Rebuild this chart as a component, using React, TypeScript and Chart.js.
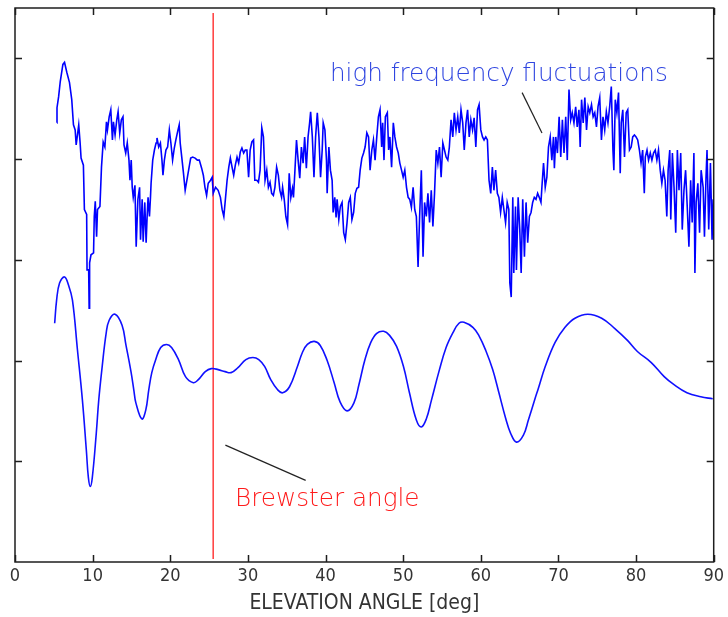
import React, { useEffect, useRef } from "react";
import { Chart, registerables } from "chart.js";

Chart.register(...registerables);

// ---- axis ticks ----
const xTickValues = [0, 10, 20, 30, 40, 50, 60, 70, 80, 90];
const yTickValues = [100, 200, 300, 400, 500];
const xTitle = "ELEVATION ANGLE [deg]";

// ---- measured (upper) curve ----
const upperAngles = [
  5.40, 5.41, 5.62, 5.83, 6.17, 6.38, 6.68, 7.02, 7.31, 7.53,
  7.75, 7.88, 8.08, 8.21, 8.39, 8.51, 8.81, 8.94, 9.23, 9.28,
  9.49, 9.55, 9.61, 9.79, 10.12, 10.21, 10.34, 10.51, 10.63, 10.94,
  11.14, 11.36, 11.58, 11.78, 11.91, 12.13, 12.34, 12.55, 12.68, 12.89,
  13.11, 13.28, 13.49, 13.70, 13.91, 14.04, 14.26, 14.46, 14.68, 14.81,
  14.97, 15.10, 15.23, 15.45, 15.61, 15.83, 16.05, 16.17, 16.38, 16.51,
  16.72, 16.89, 17.02, 17.14, 17.32, 17.45, 17.53, 17.74, 17.96, 18.17,
  18.29, 18.51, 18.73, 18.93, 19.06, 19.24, 19.44, 19.66, 19.88, 20.08,
  20.30, 20.52, 20.72, 20.94, 21.15, 21.28, 21.48, 21.70, 21.92, 22.21,
  22.43, 22.63, 22.89, 23.20, 23.49, 23.74, 24.04, 24.26, 24.47, 24.68,
  24.89, 25.19, 25.40, 25.53, 25.83, 26.17, 26.46, 26.68, 26.90, 27.10,
  27.32, 27.54, 27.74, 27.96, 28.17, 28.38, 28.60, 28.81, 29.02, 29.23,
  29.45, 29.66, 29.87, 30.09, 30.29, 30.51, 30.73, 30.89, 31.15, 31.36,
  31.57, 31.79, 32.00, 32.21, 32.43, 32.64, 32.85, 33.06, 33.28, 33.48,
  33.70, 33.92, 34.12, 34.34, 34.47, 34.68, 34.89, 35.11, 35.32, 35.53,
  35.74, 35.87, 36.04, 36.26, 36.47, 36.68, 36.89, 37.11, 37.31, 37.53,
  37.75, 37.95, 38.08, 38.30, 38.51, 38.72, 38.94, 39.15, 39.36, 39.57,
  39.70, 39.92, 40.12, 40.21, 40.43, 40.63, 40.85, 40.98, 41.19, 41.36,
  41.49, 41.71, 41.91, 42.13, 42.34, 42.55, 42.77, 42.98, 43.19, 43.40,
  43.62, 43.83, 44.04, 44.26, 44.46, 44.68, 44.90, 45.10, 45.32, 45.54,
  45.74, 45.96, 46.17, 46.38, 46.60, 46.81, 47.02, 47.23, 47.36, 47.53,
  47.71, 47.96, 48.13, 48.29, 48.51, 48.73, 48.93, 49.15, 49.37, 49.57,
  49.79, 50.00, 50.21, 50.43, 50.64, 50.85, 51.06, 51.28, 51.49, 51.70,
  51.92, 52.12, 52.34, 52.56, 52.76, 52.98, 53.19, 53.40, 53.62, 53.83,
  54.04, 54.26, 54.47, 54.68, 54.89, 55.11, 55.32, 55.53, 55.75, 55.95,
  56.17, 56.39, 56.59, 56.81, 57.03, 57.23, 57.45, 57.67, 57.87, 58.09,
  58.30, 58.51, 58.72, 58.94, 59.14, 59.36, 59.58, 59.78, 60.00, 60.22,
  60.42, 60.64, 60.85, 61.06, 61.28, 61.49, 61.69, 61.91, 62.13, 62.33,
  62.55, 62.77, 62.97, 63.19, 63.40, 63.61, 63.74, 63.92, 64.12, 64.25,
  64.47, 64.59, 64.81, 65.02, 65.20, 65.40, 65.62, 65.83, 66.04, 66.26,
  66.47, 66.68, 66.89, 67.11, 67.32, 67.53, 67.75, 67.87, 68.08, 68.30,
  68.51, 68.72, 68.94, 69.15, 69.36, 69.48, 69.66, 69.87, 70.09, 70.30,
  70.51, 70.72, 70.94, 71.14, 71.36, 71.58, 71.78, 72.00, 72.22, 72.42,
  72.64, 72.80, 72.98, 73.19, 73.40, 73.62, 73.83, 74.04, 74.26, 74.47,
  74.68, 74.90, 75.10, 75.32, 75.54, 75.74, 75.96, 76.17, 76.38, 76.60,
  76.81, 77.02, 77.14, 77.32, 77.53, 77.74, 77.96, 78.09, 78.29, 78.51,
  78.73, 78.93, 79.15, 79.37, 79.57, 79.79, 80.00, 80.21, 80.43, 80.64,
  80.85, 81.06, 81.19, 81.41, 81.61, 81.83, 82.04, 82.25, 82.47, 82.68,
  82.89, 83.11, 83.32, 83.53, 83.74, 83.96, 84.13, 84.34, 84.47, 84.68,
  84.89, 85.11, 85.32, 85.53, 85.75, 85.95, 86.17, 86.38, 86.59, 86.81,
  87.03, 87.23, 87.45, 87.58, 87.74, 87.96, 88.18, 88.38, 88.64, 88.81,
  89.01, 89.14, 89.36, 89.58, 89.79, 89.92,
];
const upperLevels = [
  436, 451, 462, 477, 494, 496, 486, 476, 459, 434,
  429, 414, 426, 434, 416, 401, 394, 350, 345, 290,
  290, 252, 297, 305, 307, 343, 358, 323, 350, 353,
  392, 417, 412, 437, 429, 442, 449, 419, 437, 424,
  439, 447, 426, 439, 442, 414, 406, 416, 399, 379,
  399, 372, 362, 374, 313, 360, 372, 320, 360, 318,
  357, 317, 343, 362, 343, 362, 376, 399, 409, 416,
  421, 412, 416, 399, 384, 399, 409, 412, 429, 416,
  399, 411, 419, 427, 434, 416, 402, 386, 369, 382,
  392, 401, 402, 401, 399, 399, 391, 384, 372, 364,
  376, 379, 382, 366, 372, 369, 362, 350, 343, 360,
  379, 392, 401, 392, 384, 394, 402, 396, 407, 411,
  406, 409, 409, 382, 409, 417, 419, 379, 379, 377,
  389, 431, 422, 379, 389, 372, 377, 366, 364, 372,
  392, 384, 369, 362, 372, 360, 343, 335, 386, 362,
  371, 362, 386, 419, 399, 381, 412, 396, 422, 391,
  422, 436, 447, 422, 382, 422, 446, 422, 382, 409,
  436, 429, 399, 366, 412, 389, 379, 347, 362, 342,
  360, 340, 353, 357, 327, 320, 337, 357, 362, 340,
  347, 366, 371, 372, 389, 401, 406, 412, 426, 422,
  389, 409, 419, 399, 422, 442, 449, 412, 436, 399,
  442, 446, 409, 422, 392, 436, 422, 412, 406, 396,
  389, 382, 389, 372, 362, 360, 352, 372, 350, 343,
  293, 343, 389, 303, 357, 343, 366, 337, 369, 333,
  366, 409, 396, 412, 382, 416, 409, 402, 399, 412,
  439, 422, 446, 429, 442, 426, 449, 436, 409, 436,
  449, 422, 439, 429, 441, 412, 449, 454, 429, 422,
  419, 422, 419, 379, 366, 392, 369, 389, 366, 362,
  347, 362, 350, 337, 357, 350, 277, 263, 362, 287,
  353, 290, 362, 330, 287, 360, 303, 357, 317, 343,
  347, 357, 362, 360, 366, 362, 357, 372, 396, 372,
  382, 412, 422, 399, 422, 391, 422, 406, 442, 402,
  439, 406, 442, 399, 469, 439, 446, 436, 452, 432,
  449, 412, 459, 436, 461, 429, 452, 446, 454, 442,
  446, 432, 452, 461, 419, 442, 429, 447, 436, 452,
  472, 409, 389, 459, 446, 466, 386, 436, 449, 402,
  446, 449, 409, 412, 422, 424, 422, 419, 409, 396,
  409, 366, 402, 409, 399, 406, 399, 406, 409, 399,
  409, 389, 376, 389, 379, 343, 389, 409, 340, 406,
  372, 327, 409, 369, 406, 330, 369, 389, 353, 313,
  379, 337, 406, 287, 357, 376, 327, 389, 372, 323,
  382, 409, 330, 396, 320, 360,
];

// ---- model (lower, smooth) curve ----
const lowerAngles = [
  5.11, 5.36, 5.74, 6.38, 6.89, 7.40, 8.04, 8.68, 9.19, 9.45,
  9.70, 9.96, 10.47, 10.79, 11.23, 11.74, 12.13, 12.89, 13.79, 14.30,
  14.94, 15.32, 15.57, 16.34, 16.85, 17.23, 17.62, 18.13, 18.77, 19.53,
  20.17, 21.06, 21.96, 22.98, 23.62, 24.51, 25.28, 26.17, 27.06, 27.83,
  28.72, 29.74, 30.64, 31.40, 32.17, 32.94, 33.83, 34.47, 35.36, 36.38,
  37.02, 37.66, 38.55, 39.32, 40.21, 41.11, 41.87, 42.77, 43.66, 44.30,
  45.08, 45.83, 46.60, 47.49, 48.25, 49.15, 50.04, 50.81, 51.70, 52.34,
  52.98, 53.62, 54.64, 55.53, 56.43, 57.19, 57.83, 58.98, 59.74, 60.64,
  61.53, 62.30, 63.19, 63.83, 64.59, 65.49, 66.13, 67.02, 67.40, 68.30,
  69.57, 70.85, 72.13, 73.79, 75.57, 77.23, 78.89, 80.17, 81.96, 83.62,
  84.89, 86.55, 88.34, 89.87,
];
const lowerLevels = [
  237, 260, 277, 283, 275, 260, 211, 161, 111, 84,
  75, 84, 128, 161, 194, 227, 240, 246, 235, 215,
  189, 170, 158, 142, 151, 171, 188, 201, 213, 216,
  213, 201, 184, 178, 181, 189, 192, 191, 189, 188,
  193, 201, 203, 201, 194, 181, 171, 168, 174, 194,
  208, 216, 219, 215, 200, 178, 159, 150, 158, 176,
  201, 218, 227, 229, 225, 214, 194, 168, 141, 134,
  142, 160, 190, 213, 228, 237, 238, 233, 225, 210,
  191, 169, 143, 128, 119, 126, 141, 163, 172, 194,
  218, 233, 242, 246, 242, 232, 220, 209, 198, 184,
  176, 168, 164, 162,
];

// ---- annotations ----
const brewsterAngles = [25.53, 25.53];
const brewsterLevels = [3, 545];
const brewsterPointerAngles = [27.1, 37.44];
const brewsterPointerLevels = [116, 81];
const fluctPointerAngles = [65.32, 67.88];
const fluctPointerLevels = [466, 426];
const noteTexts = ["high frequency fluctuations", "Brewster angle"];
const noteAngles = [40.56, 28.34];
const noteLevels = [478, 56];
const noteColors = ["#2f45e0", "#ff1c1c"];

const toPoints = (xs: number[], ys: number[]) => xs.map((x, i) => ({ x, y: ys[i] }));

const axisFont = "'Liberation Sans Narrow', 'DejaVu Sans Condensed', 'Liberation Sans', sans-serif";

const framePlugin = {
  id: "frameAndNotes",
  afterDatasetsDraw(chart: any) {
    const { ctx, chartArea: a, scales } = chart;
    const x = scales.x;
    const y = scales.y;
    ctx.save();
    ctx.strokeStyle = "#1e1e1e";
    ctx.lineWidth = 1.5;
    ctx.strokeRect(a.left, a.top, a.right - a.left, a.bottom - a.top);
    ctx.beginPath();
    xTickValues.forEach((v) => {
      const px = Math.round(x.getPixelForValue(v)) + 0.5;
      ctx.moveTo(px, a.bottom);
      ctx.lineTo(px, a.bottom - 7);
      ctx.moveTo(px, a.top);
      ctx.lineTo(px, a.top + 7);
    });
    yTickValues.forEach((v) => {
      const py = Math.round(y.getPixelForValue(v)) + 0.5;
      ctx.moveTo(a.left, py);
      ctx.lineTo(a.left + 7, py);
      ctx.moveTo(a.right, py);
      ctx.lineTo(a.right - 7, py);
    });
    ctx.stroke();
    ctx.font = "300 24.7px 'DejaVu Sans', Verdana, sans-serif";
    ctx.textBaseline = "alphabetic";
    ctx.textAlign = "left";
    noteTexts.forEach((t, i) => {
      ctx.fillStyle = noteColors[i];
      ctx.fillText(t, x.getPixelForValue(noteAngles[i]), y.getPixelForValue(noteLevels[i]));
    });
    ctx.restore();
  },
};

export default function App() {
  const canvasRef = useRef<HTMLCanvasElement | null>(null);

  useEffect(() => {
    if (!canvasRef.current) return;
    const chart = new Chart(canvasRef.current, {
      type: "line",
      data: {
        datasets: [
          {
            data: toPoints(upperAngles, upperLevels),
            borderColor: "#0000ff",
            borderWidth: 1.6,
            pointRadius: 0,
            tension: 0,
          },
          {
            data: toPoints(lowerAngles, lowerLevels),
            borderColor: "#1010ff",
            borderWidth: 1.6,
            pointRadius: 0,
            tension: 0.4,
          },
          {
            data: toPoints(brewsterAngles, brewsterLevels),
            borderColor: "#ff4848",
            borderWidth: 1.6,
            pointRadius: 0,
          },
          {
            data: toPoints(brewsterPointerAngles, brewsterPointerLevels),
            borderColor: "#222222",
            borderWidth: 1.2,
            pointRadius: 0,
          },
          {
            data: toPoints(fluctPointerAngles, fluctPointerLevels),
            borderColor: "#222222",
            borderWidth: 1.2,
            pointRadius: 0,
          },
        ],
      },
      options: {
        animation: false,
        responsive: true,
        maintainAspectRatio: false,
        layout: { padding: { left: 15, right: 8, top: 8, bottom: 0 } },
        plugins: { legend: { display: false }, tooltip: { enabled: false } },
        scales: {
          x: {
            type: "linear",
            min: 0,
            max: 90,
            afterBuildTicks: (s: any) => {
              s.ticks = xTickValues.map((v) => ({ value: v }));
            },
            afterFit: (s: any) => {
              s.height = 55;
            },
            ticks: {
              font: { family: axisFont, size: 18 },
              color: "#333333",
              padding: 4,
              maxRotation: 0,
              autoSkip: false,
            },
            grid: { display: false, drawTicks: false },
            border: { display: false },
            title: {
              display: true,
              text: xTitle,
              font: { family: axisFont, size: 21 },
              color: "#333333",
              padding: { top: 0, bottom: 1 },
            },
          },
          y: { type: "linear", min: 0, max: 550, display: false },
        },
      },
      plugins: [framePlugin],
    });
    return () => chart.destroy();
  }, []);

  return (
    <div style={{ position: "fixed", left: 0, top: 0, width: 728, height: 617, background: "#fff" }}>
      <canvas ref={canvasRef} />
    </div>
  );
}
